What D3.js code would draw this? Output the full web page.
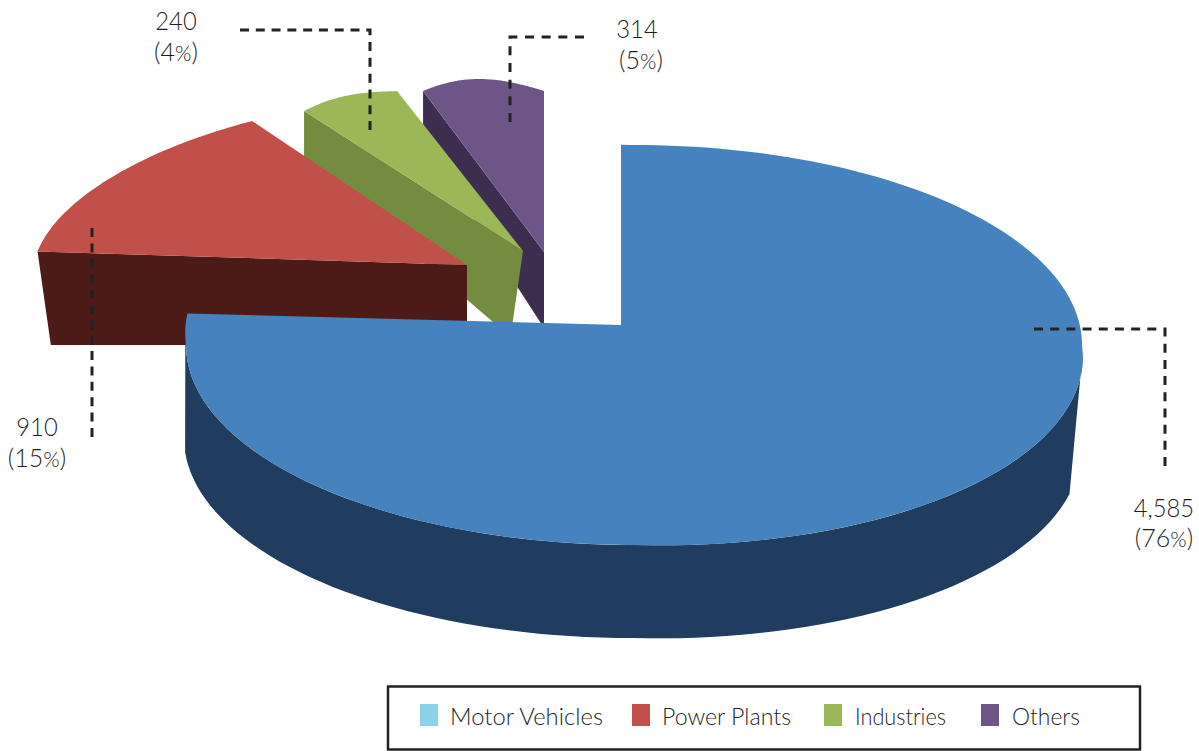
<!DOCTYPE html>
<html><head><meta charset="utf-8">
<style>html,body{margin:0;padding:0;background:#fff}svg{display:block}</style>
<script src="https://cdn.jsdelivr.net/npm/d3@7"></script></head>
<body><svg id="c" width="1199" height="751"></svg>
<script>
// ---- data ----
const categories = ["Motor Vehicles","Power Plants","Industries","Others"];
const values = [4585,910,240,314];
// ---- styles ----
const topColors = ["#4682BD","#C2504A","#9BB757","#6D5687"];
const wallColors = ["#203C5E","#4C1B17","#748C40","#3D2E50"];
const legendColors = ["#8AD3E8","#C2504A","#9BB757","#6D5687"];

const svg = d3.select("#c");
const rad = Math.PI/180;
const line = d3.line();
const pie = d3.pie().value(d=>d).sort(null);
const arcs = pie(values);
const total = d3.sum(values);

// Projection of each exploded wedge: screen = origin + u·sinθ + v·cosθ
const wedgeProj = {
  1:{o:[467,265],u:[431.2,5.1],v:[23.5,-168.3],b:-0.015,bo:[467,345],kx:.969,ky:0},
  2:{o:[523,251],u:[412.3,-6.6],v:[6.5,-171.1],b:0.025,bo:[510.5,337],kx:.943,ky:1.264},
  3:{o:[544,252],u:[377.5,26.5],v:[0,-161],b:0.06,bo:[544,328],kx:1,ky:1.16}
};
function rel(p,th,t){
  const f=1+p.b*Math.sin(Math.PI*t);
  return [(p.u[0]*Math.sin(th)+p.v[0]*Math.cos(th))*f,(p.u[1]*Math.sin(th)+p.v[1]*Math.cos(th))*f];
}
function drawWedge(i){
  const a=arcs[i],p=wedgeProj[i];
  const r0=rel(p,a.startAngle,0);
  // radial cut face, seen from the front
  svg.append("path").attr("fill",wallColors[i]).attr("d",line([
    [p.o[0]+r0[0],p.o[1]+r0[1]],
    p.o,p.bo,
    [p.bo[0]+r0[0]*p.kx,p.bo[1]+r0[1]*p.ky]
  ])+"Z");
  const pts=[p.o];
  d3.range(0,61).forEach(k=>{const t=k/60,th=a.startAngle+t*(a.endAngle-a.startAngle),r=rel(p,th,t);pts.push([p.o[0]+r[0],p.o[1]+r[1]]);});
  svg.append("path").attr("fill",topColors[i]).attr("d",line(pts)+"Z");
}
[3,2,1].forEach(drawWedge);

// Main slice: ellipse in perspective
const ell={cx:634,cy:345,rx:448,ry:200,tilt:.03,apex:[621,325],phi0:-1.66,phi1:279,
  wallTop:[92,272],wallBottom:[266,106],drop:[-2,93]};
function ellPt(phiDeg,off){
  const ph=phiDeg*rad,f=1+ell.tilt*Math.max(0,-Math.sin(2*ph));
  return [ell.cx+ell.rx*Math.sin(ph)*f+(off?off[0]:0),ell.cy-ell.ry*Math.cos(ph)*f+(off?off[1]:0)];
}
const wall=[];
d3.range(0,81).forEach(k=>wall.push(ellPt(ell.wallTop[0]+(ell.wallTop[1]-ell.wallTop[0])*k/80)));
d3.range(0,81).forEach(k=>wall.push(ellPt(ell.wallBottom[0]+(ell.wallBottom[1]-ell.wallBottom[0])*k/80,ell.drop)));
svg.append("path").attr("fill",wallColors[0]).attr("d",line(wall)+"Z");
const phiScale=d3.scaleLinear().domain([arcs[0].startAngle,arcs[0].endAngle]).range([ell.phi0,ell.phi1]);
const blue=[ell.apex];
d3.range(0,181).forEach(k=>blue.push(ellPt(phiScale(arcs[0].startAngle+(arcs[0].endAngle-arcs[0].startAngle)*k/180))));
svg.append("path").attr("fill",topColors[0]).attr("d",line(blue)+"Z");

// Leaders
const leaders=[
  [[1034,329],[1165,329],[1165,466]],
  [[92,228],[92,437]],
  [[240,30],[370,30],[370,130]],
  [[584,37],[510,37],[510,122]]
];
leaders.forEach(l=>{
  const p=svg.append("path").attr("d",line(l)).attr("fill","none")
    .attr("stroke","#222").attr("stroke-width",3);
  const L=p.node().getTotalLength(),n=Math.round((L-9)/16),gap=(L-9*(n+1))/n;
  p.attr("stroke-dasharray",`9 ${gap}`);
});

// Value labels
const font="Lato, 'Open Sans', sans-serif";
const ink="#1f1f1f";
const labelPos=[[1164,517,1164,547],[37,436,37,467],[176,30,176,61],[637,38,641,69]];
const fmt=d3.format(",");
values.forEach((v,i)=>{
  const p=labelPos[i];
  const a=svg.append("text").attr("x",p[0]).attr("y",p[1]).attr("text-anchor","middle")
    .attr("font-family",font).attr("font-weight",300).attr("font-size",25).attr("fill",ink).text(fmt(v));
  a.attr("textLength",a.node().getComputedTextLength()*.95).attr("lengthAdjust","spacingAndGlyphs");
  const t=svg.append("text").attr("x",p[2]).attr("y",p[3]).attr("text-anchor","middle")
    .attr("font-family",font).attr("font-weight",300).attr("font-size",25).attr("fill",ink);
  t.append("tspan").text("("+Math.round(v/total*100));
  t.append("tspan").attr("font-size",21).text("%");
  t.append("tspan").text(")");
});

// Legend
svg.append("rect").attr("x",388).attr("y",686.5).attr("width",752).attr("height",63)
  .attr("fill","#fff").attr("stroke","#222").attr("stroke-width",2.5);
const legendX=[420,632,824,981], legendTextX=[450,662,855,1012], legendW=[153,129,91,68];
categories.forEach((c,i)=>{
  svg.append("rect").attr("x",legendX[i]).attr("y",704).attr("width",18).attr("height",22).attr("fill",legendColors[i]);
  svg.append("text").attr("x",legendTextX[i]).attr("y",725).attr("font-family",font).attr("font-weight",300)
    .attr("font-size",23).attr("fill",ink).attr("textLength",legendW[i]).attr("lengthAdjust","spacingAndGlyphs").text(c);
});
</script></body></html>
